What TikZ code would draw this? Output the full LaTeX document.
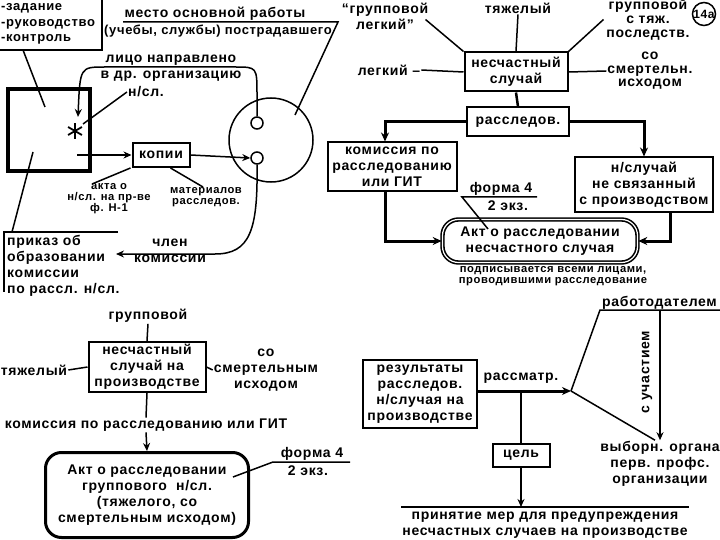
\documentclass[tikz,border=0pt]{standalone}
\usepackage{fontspec}
\setmainfont{Liberation Sans}[LetterSpace=5]
\usetikzlibrary{arrows.meta, positioning, calc}
\tikzset{
    lbl/.style={font=\fontsize{14}{16}\selectfont\bfseries, align=center, inner sep=1pt},
    smalllbl/.style={font=\fontsize{11.2}{11}\selectfont\bfseries, align=center, inner sep=0pt},
    blockbox/.style={rectangle, draw, line width=2pt, lbl, inner sep=2pt},
    actbox/.style={rectangle, rounded corners=16pt, draw, line width=3pt, lbl},
    arrow/.style={-{Stealth[length=8pt, width=7pt]}, line width=1.5pt},
    thickarrow/.style={-{Stealth[length=9pt, width=8pt]}, line width=3pt},
    thinline/.style={line width=1.5pt},
}

\begin{document}
\begin{tikzpicture}[x=1pt, y=-1pt]
\useasboundingbox (0,0) rectangle (720,540);

% --- organisation, place of work ---
\node[lbl, font=\fontsize{13}{15.5}\selectfont\bfseries, anchor=west, align=left] (tasks) at (0,24) {-задание\\-руководство\\-контроль};
\draw[thinline] (0,50) -- (102,50) -- (102,0);
\node[draw, line width=4pt, minimum width=82, minimum height=82] (org) at (49,130) {};
\coordinate (star) at (75,131);
\foreach \a in {90,30,150}
  \draw[line width=1.8pt] ([shift={(\a:8)}]star) -- ([shift={(\a+180:8)}]star);
\draw[thinline] (23,50) -- (45,107);

\node[lbl] (mainwork) at (215,14) {место основной работы};
\node[lbl, font=\fontsize{13}{15}\selectfont\bfseries] (mainwork2) at (218,31) {(учебы, службы) пострадавшего};
\node[circle, draw, thinline, minimum size=84] (place) at (271,140) {};
\node[circle, draw, thinline, minimum size=12, inner sep=0pt] (inport) at (257,123) {};
\node[circle, draw, thinline, minimum size=12, inner sep=0pt] (outport) at (257,158) {};
\draw[thinline] (123,22) -- (338,22) -- (295,115);

\node[lbl] (redirect) at (171,68) {лицо направлено\\в др. организацию};
\node[lbl] (redirnsl) at (146,92) {н/сл.};
\draw[arrow] (inport.north) -- (257,95) .. controls (257,67) .. (235,67) -- (105,67)
  .. controls (80,67) .. (78,117);
\draw[thinline] ($(star)+(8,-7)$) -- (redirnsl.west);

\node[blockbox, minimum width=57, minimum height=24] (copies) at (161,155) {копии};
\draw[arrow] (77,155) -- (copies.west);
\draw[arrow] (copies.east) -- (outport.west);
\node[smalllbl] (actcopy) at (109,199) {акта о\\н/сл. на пр-ве\\ф. Н-1};
\node[smalllbl] (matcopy) at (206,197) {материалов\\расследов.};
\draw[thinline] ([xshift=-1]copies.south west) -- (92,184);
\draw[thinline] ([xshift=-20]copies.south east) -- (203,187);

\node[lbl, anchor=north west, align=left] (order) at (6,234) {приказ об\\образовании\\комиссии\\по рассл. н/сл.};
\draw[thinline] (118,232) -- (4,232) -- (4,292);
\draw[thinline] (33,152) -- (12,232);
\node[lbl] (member) at (170,251) {член\\комиссии};
\draw[arrow] (outport.south) .. controls (258,230) and (250,254) .. (215,254) -- (116,254);

% --- investigation of an accident ---
\node[lbl] (grlight) at (385,16) {“групповой\\легкий”};
\node[lbl] (heavy) at (518,8) {тяжелый};
\node[lbl, font=\fontsize{14}{14}\selectfont\bfseries] (grheavy) at (648,20) {групповой\\с тяж.\\последств.};
\node[circle, draw, thinline, font=\fontsize{12}{12}\selectfont\bfseries, minimum size=23, inner sep=0pt] (sheet) at (704,14) {14а};
\node[blockbox, minimum width=103, minimum height=39] (accident) at (516,72) {несчастный\\случай};
\node[lbl] (light) at (389,70) {легкий –};
\node[lbl, font=\fontsize{14}{13.5}\selectfont\bfseries] (fatal) at (650,71) {со\\смертельн.\\исходом};
\draw[thinline] (accident.north west) -- +(-38,-32);
\draw[thinline] (accident.north) -- (heavy.south);
\draw[thinline] (accident.north east) -- +(35,-32);
\draw[thinline] (light.east) -- (accident.west);
\draw[thinline] (accident.east) -- (fatal.west);

\node[blockbox, minimum width=102, minimum height=29] (invest) at (518,122) {расследов.};
\draw[line width=2.5pt] (accident.south) -- (invest.north);
\node[blockbox, minimum width=129, minimum height=49] (commission) at (392,167) {комиссия по\\расследованию\\или ГИТ};
\node[blockbox, minimum width=138, minimum height=55] (notwork) at (644,185) {н/случай\\не связанный\\с производством};
\node[actbox, double, double distance=1.2pt, line width=1.6pt, minimum width=195, minimum height=43] (act) at (540,241) {Акт о расследовании\\несчастного случая};
\node[smalllbl] (signed) at (553,276) {подписывается всеми лицами,\\проводившими расследование};
\node[lbl] (form) at (501,189) {форма 4};
\node[lbl] (twocopies) at (508,206) {2 экз.};
\draw[thinline] (537,197) -- (462,197) -- (488,229);

\draw[thickarrow] (invest.west) -| ([xshift=-7]commission.north);
\draw[thickarrow] (invest.east) -| (notwork.north);
\draw[thickarrow] ([xshift=-7]commission.south) |- (act.west);
\draw[thickarrow] ([xshift=26]notwork.south) |- (act.east);

% --- group accident ---
\node[lbl] (group) at (148,316) {групповой};
\node[blockbox, minimum width=117, minimum height=50] (prodacc) at (147,367) {несчастный\\случай на\\производстве};
\node[lbl] (heavy2) at (34,370) {тяжелый};
\node[lbl] (fatal2) at (266,370) {со\\смертельным\\исходом};
\node[lbl] (commission2) at (146,425) {комиссия по расследованию или ГИТ};
\node[actbox, minimum width=203, minimum height=85] (groupact) at (147,495) {Акт о расследовании\\группового\ \ н/сл.\\(тяжелого, со\\смертельным исходом)};
\node[lbl] (form2) at (312,454) {форма 4};
\node[lbl] (twocopies2) at (308,471) {2 экз.};
\draw[thinline] (350,462) -- (273,462) -- (233,477);
\draw[thinline] (group.south) -- (prodacc.north);
\draw[thinline] (heavy2.east) -- (prodacc.west);
\draw[thinline] (prodacc.east) -- (fatal2.west);
\draw[thinline] (prodacc.south) -- (commission2.north);
\draw[arrow] (commission2.south) -- (groupact.north);

% --- results of investigation ---
\node[blockbox, minimum width=114, minimum height=68] (results) at (420,394) {результаты\\расследов.\\н/случая на\\производстве};
\coordinate (split) at (571,391);
\coordinate (branch) at (521,391);
\draw[thickarrow] (results.east |- split) -- (split);
\node[lbl] (consider) at (521,378) {рассматр.};
\node[lbl, anchor=south west] (employer) at (601,311) {работодателем};
\coordinate (empl) at (600,310);
\coordinate (partic) at (660,310);
\draw[thinline] (split) -- (empl) -- (720,310);
\node[lbl] (union) at (660,464) {выборн. органа\\перв. профс.\\организации};
\draw[arrow] (partic) -- (union.north);
\node[lbl, rotate=90] (with) at (647,372) {с участием};
\draw[thinline] (split) -- ([xshift=-5]union.north);
\node[blockbox, minimum width=57, minimum height=23] (goal) at (521,455) {цель};
\node[lbl] (measures) at (545,525) {принятие мер для предупреждения\\несчастных случаев на производстве};
\coordinate (measureline) at (545,507);
\draw[thinline] (branch) -- (goal.north);
\draw[arrow] (goal.south) -- (branch |- measureline);
\draw[thinline] (measureline -| measures.west) -- (measureline -| measures.east);
\end{tikzpicture}
\end{document}
